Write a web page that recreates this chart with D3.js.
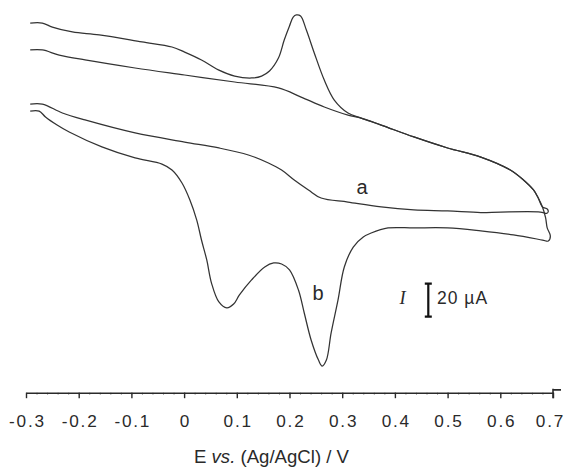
<!DOCTYPE html>
<html><head><meta charset="utf-8">
<script src="https://cdn.jsdelivr.net/npm/d3@7"></script>
<style>body{margin:0;background:#fff}svg{display:block}</style>
</head><body><svg id="c" width="567" height="468"></svg>
<script>
// Potential ticks (V)
const tickValues = [-0.3,-0.2,-0.1,0,0.1,0.2,0.3,0.4,0.5,0.6,0.7];
const tickLabels = ["-0.3","-0.2","-0.1","0","0.1","0.2","0.3","0.4","0.5","0.6","0.7"];
const minorStep = 0.02;
const xTitle = ["E ", "vs.", " (Ag/AgCl) / V"];
const scaleBarValue = 20; // µA
const scaleBarLabel = "20 µA";
const curveLabels = ["a", "b"];

// Curve a: [E (V), I (µA, arbitrary offset)]
const curveAForward = [
  [-0.292,94.3],[-0.269,94.3],[-0.237,91.4],[-0.188,88.6],[-0.093,84.0],[0.001,80.0],
  [0.096,76.0],[0.179,72.6],[0.222,67.4],[0.266,61.7],[0.311,57.1],[0.336,55.4],
  [0.374,51.4],[0.436,44.6],[0.500,38.3],[0.563,33.1],[0.619,25.7],[0.644,20.0],
  [0.663,14.3],[0.672,9.7],[0.680,4.6],[0.689,3.4],[0.691,2.0]
];
const curveAReverse = [
  [0.688,0.9],[0.676,1.7],[0.601,1.7],[0.563,1.4],[0.500,2.3],[0.436,2.9],[0.374,4.6],
  [0.311,7.4],[0.260,9.7],[0.236,14.3],[0.209,20.0],[0.185,25.7],[0.160,29.7],
  [0.122,34.3],[0.066,38.3],[0.001,41.7],[-0.093,46.9],[-0.188,54.3],[-0.231,58.3],
  [-0.269,63.4],[-0.292,63.4]
];
// Curve b
const curveBForward = [
  [-0.292,109.7],[-0.269,109.7],[-0.250,107.4],[-0.212,104.6],[-0.161,102.9],[-0.080,98.9],
  [-0.023,96.0],[0.001,93.1],[0.033,88.6],[0.065,82.9],[0.096,79.4],[0.128,78.3],
  [0.147,79.4],[0.162,82.3],[0.179,89.7],[0.190,100.0],[0.200,108.0],[0.207,113.1],
  [0.213,114.3],[0.221,113.7],[0.232,105.7],[0.247,92.6],[0.266,77.1],[0.285,65.7],
  [0.311,58.3],[0.336,55.4],[0.374,51.4],[0.436,44.6],[0.500,38.3],[0.563,33.1],
  [0.619,25.7],[0.644,20.0],[0.663,14.3],[0.672,9.7],[0.680,4.6],[0.686,-1.7],
  [0.689,-7.4],[0.695,-12.0]
];
const curveBReverse = [
  [0.691,-14.9],[0.680,-14.3],[0.625,-11.4],[0.563,-9.1],[0.500,-7.4],[0.436,-7.4],
  [0.387,-7.4],[0.355,-10.3],[0.340,-12.6],[0.321,-18.3],[0.304,-29.7],[0.292,-48.6],
  [0.279,-67.4],[0.270,-82.9],[0.262,-86.3],[0.255,-82.9],[0.241,-71.4],[0.228,-56.0],
  [0.217,-42.9],[0.200,-31.4],[0.185,-28.0],[0.170,-27.4],[0.153,-29.7],[0.128,-37.1],
  [0.105,-45.7],[0.094,-50.9],[0.081,-53.1],[0.066,-49.7],[0.052,-38.9],[0.043,-25.7],
  [0.033,-14.3],[0.024,-2.9],[0.011,8.6],[-0.004,18.3],[-0.023,25.7],[-0.042,29.1],
  [-0.093,32.6],[-0.156,38.9],[-0.218,47.4],[-0.241,51.4],[-0.263,56.0],[-0.275,59.4],
  [-0.292,59.4]
];

const svg = d3.select("#c");
const x = d3.scaleLinear().domain([-0.3, 0.7]).range([26, 553]);
const y = d3.scaleLinear().domain([-100, 120]).range([390, 5]);
const axisY = 392.7;
const ink = "#2a2a2a";

const line = d3.line().x(d => x(d[0])).y(d => y(d[1])).curve(d3.curveCatmullRom.alpha(0.5));
[curveAForward.concat(curveAReverse), curveBForward.concat(curveBReverse)].forEach(c => {
  svg.append("path").attr("d", line(c)).attr("fill", "none")
    .attr("stroke", "#333").attr("stroke-width", 1.25).attr("stroke-linejoin", "round");
});

// minor ticks
const minorVals = d3.range(-0.3, 0.7001, minorStep).map(v => +v.toFixed(2));
const gMinor = svg.append("g").attr("transform", `translate(0,${axisY})`)
  .call(d3.axisBottom(x).tickValues(minorVals).tickSize(2).tickSizeOuter(0).tickFormat(""));
gMinor.select(".domain").remove();
gMinor.selectAll(".tick line").attr("stroke", "#888").attr("stroke-width", 1);

// major axis
const gAxis = svg.append("g").attr("transform", `translate(0,${axisY})`)
  .call(d3.axisBottom(x).tickValues(tickValues).tickSize(5.5).tickSizeOuter(0)
    .tickFormat((d, i) => tickLabels[i]));
gAxis.select(".domain").attr("stroke", ink).attr("stroke-width", 1.4);
gAxis.selectAll(".tick line").attr("stroke", ink).attr("stroke-width", 1.4);
gAxis.selectAll(".tick text").attr("y", 34).attr("dy", 0)
  .attr("dx", (d, i) => i === tickValues.length - 1 ? -3 : 0.9)
  .attr("fill", ink).attr("font-family", "Liberation Sans, Arial, sans-serif")
  .attr("font-size", 17.2).attr("letter-spacing", "1.8px");
// end cap at 0.7
svg.append("path").attr("d", `M${x(0.7)},${axisY-4}V${axisY+5.5}M${x(0.7)},${axisY-2.8}h8`)
  .attr("stroke", ink).attr("stroke-width", 1.6).attr("fill", "none");

// axis title
const t = svg.append("text").attr("x", 194).attr("y", 463)
  .attr("font-family", "Liberation Sans, Arial, sans-serif").attr("font-size", 17.5)
  .attr("fill", ink).attr("textLength", 155).attr("lengthAdjust", "spacingAndGlyphs");
t.append("tspan").text(xTitle[0]);
t.append("tspan").attr("font-style", "italic").text(xTitle[1]);
t.append("tspan").text(xTitle[2]);

// curve labels
svg.append("text").attr("x", 362).attr("y", 194).attr("text-anchor", "middle")
  .attr("font-family", "Liberation Sans, Arial, sans-serif").attr("font-size", 20)
  .attr("fill", ink).text(curveLabels[0]);
svg.append("text").attr("x", 318).attr("y", 300).attr("text-anchor", "middle")
  .attr("font-family", "Liberation Sans, Arial, sans-serif").attr("font-size", 20)
  .attr("fill", ink).text(curveLabels[1]);

// current scale bar
const barTop = 282.7, barH = y(0) - y(scaleBarValue), barX = 428.3;
svg.append("path")
  .attr("d", `M${barX},${barTop}V${barTop+barH}M${barX-3.5},${barTop+1}h7M${barX-3.5},${barTop+barH-1}h7`)
  .attr("stroke", "#111").attr("stroke-width", 2.2).attr("fill", "none");
svg.append("text").attr("x", 402.5).attr("y", 303.5).attr("text-anchor", "middle")
  .attr("font-family", "Liberation Serif, serif").attr("font-style", "italic")
  .attr("font-size", 18.5).attr("fill", ink).text("I");
svg.append("text").attr("x", 437).attr("y", 303.5)
  .attr("font-family", "Liberation Sans, Arial, sans-serif").attr("font-size", 17.5)
  .attr("letter-spacing", "1px").attr("fill", ink).text(scaleBarLabel);
</script></body></html>
